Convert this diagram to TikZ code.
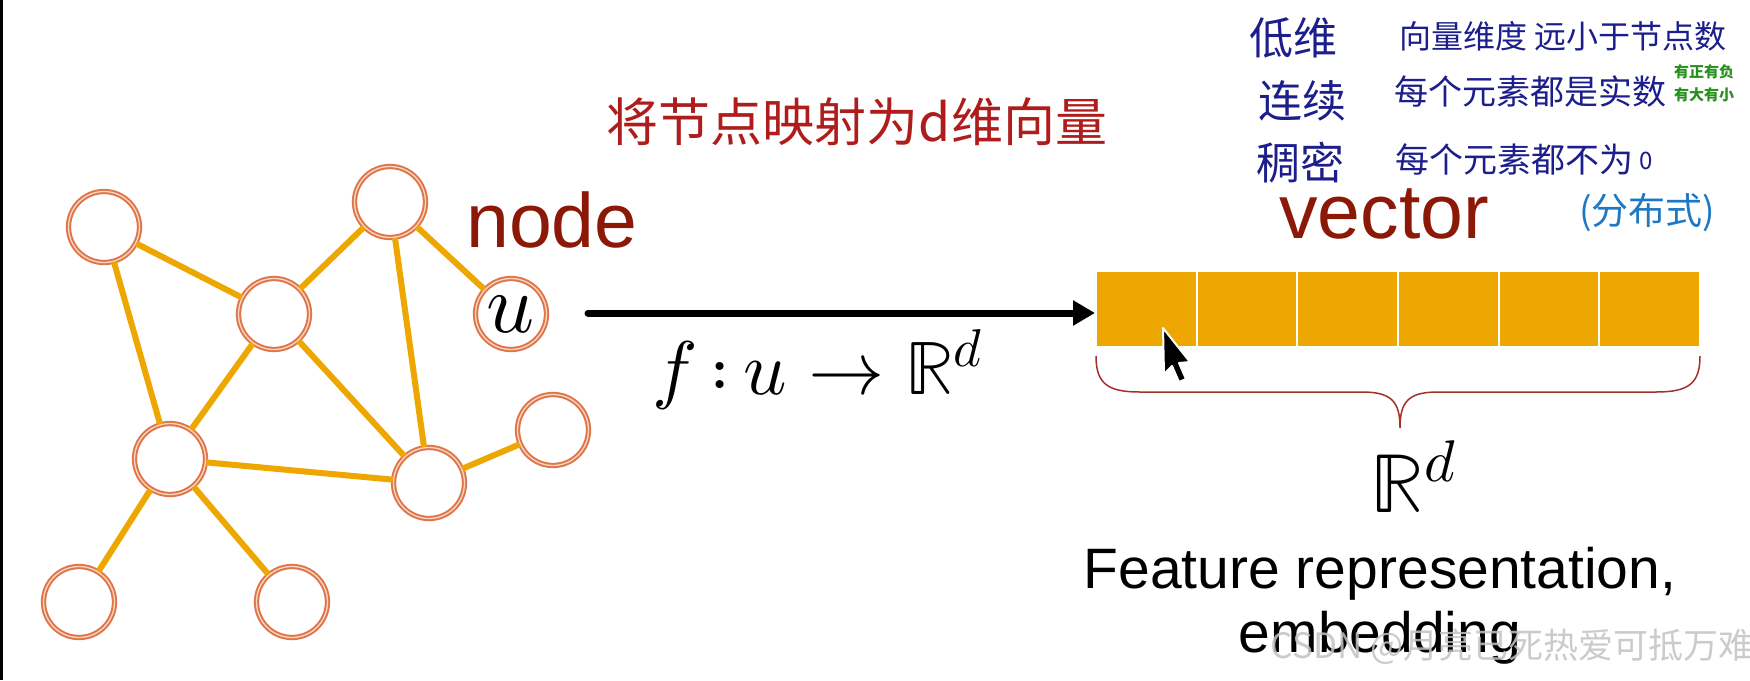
\documentclass[tikz,border=0pt]{standalone}
\usepackage{fontspec}
\usepackage{unicode-math}
\setmainfont{Liberation Sans}
\setmathfont{Latin Modern Math}
\newfontfamily\cjk{Noto Sans CJK SC}
\usetikzlibrary{arrows.meta,calc}
\definecolor{ringc}{RGB}{222,118,74}
\definecolor{ringlight}{RGB}{250,215,195}
\definecolor{edgec}{RGB}{238,166,0}
\definecolor{vecc}{RGB}{238,166,0}
\definecolor{nodered}{RGB}{140,24,8}
\definecolor{bracec}{RGB}{160,50,40}
\definecolor{handred}{RGB}{175,28,28}
\definecolor{navy}{RGB}{28,30,140}
\definecolor{hgreen}{RGB}{40,145,30}
\definecolor{lblue}{RGB}{30,120,195}
\definecolor{wmgray}{RGB}{195,195,195}
\begin{document}
\begin{tikzpicture}[x=1pt,y=-1pt,
  gnode/.style={circle, minimum size=71pt, inner sep=0pt, fill=white, draw=ringc,
    line width=2pt, double=ringlight, double distance=1.3pt},
  gedge/.style={draw=edgec, line width=6pt},
  cell/.style={rectangle, minimum width=100.67pt, minimum height=76pt, inner sep=0pt,
    fill=vecc, draw=white, line width=2pt},
  big/.style={font=\fontsize{77}{80}\selectfont, text=nodered, inner sep=0pt},
  hand/.style={inner sep=0pt, text=navy},
]
\useasboundingbox (0,0) rectangle (1750,680);
\fill[white] (0,0) rectangle (1750,680);
\fill[black] (0,0) rectangle (3,680);

% graph nodes
\node[gnode] (A) at (104,227) {};
\node[gnode] (B) at (390,202) {};
\node[gnode] (C) at (274,314) {};
\node[gnode] (U) at (511,314) {\fontsize{84}{84}\selectfont\raisebox{-10pt}{$u$}};
\node[gnode] (D) at (170,459) {};
\node[gnode] (E) at (429,483) {};
\node[gnode] (F) at (553,430) {};
\node[gnode] (G) at (79,602) {};
\node[gnode] (H) at (292,602) {};

% edges
\draw[gedge] (A) -- (C);
\draw[gedge] (A) -- (D);
\draw[gedge] (B) -- (C);
\draw[gedge] (B) -- (E);
\draw[gedge] (B) -- (U);
\draw[gedge] (C) -- (D);
\draw[gedge] (C) -- (E);
\draw[gedge] (D) -- (E);
\draw[gedge] (D) -- (G);
\draw[gedge] (D) -- (H);
\draw[gedge] (E) -- (F);

% labels
\node[big, anchor=base west] (lnode) at (466,247) {node};
\node[big, anchor=base west] (lvec) at (1279,238) {vector};
\node[inner sep=0pt, text=lblue, font=\cjk\fontsize{37}{40}\selectfont] (dist) at (1647,213) {(分布式)};

% vector cells
\foreach \i in {1,...,6}{
  \node[cell] (c\i) at ({1096+100.67*(\i-0.5)},309) {};
}

% arrow
\coordinate (arrS) at (588,313);
\draw[line width=7pt, line cap=round, -{Triangle[length=22pt,width=24pt]}] (arrS) -- (arrS -| c1.west);
\node[inner sep=0pt, anchor=base, font=\fontsize{76}{80}\selectfont] (fmap) at (818,394) {$f\,{:}\,u \rightarrow \mathbb{R}^{d}$};

% brace
\draw[bracec, line width=1.5pt]
  (1096,356) .. controls (1096,384) and (1108,392) .. (1140,392)
  -- (1362,392) .. controls (1392,392) and (1400,402) .. (1400,428)
  .. controls (1400,402) and (1408,392) .. (1438,392)
  -- (1656,392) .. controls (1688,392) and (1700,384) .. (1700,356);

\node[inner sep=0pt, anchor=base, font=\fontsize{84}{88}\selectfont] (Rd) at (1414,512) {$\mathbb{R}^{d}$};
\node[inner sep=0pt, anchor=base, font=\fontsize{57}{60}\selectfont] (feat1) at (1380,588) {Feature representation,};
\node[inner sep=0pt, anchor=base, font=\fontsize{57}{60}\selectfont] (feat2) at (1380,652) {embedding};

% handwritten notes
\node[inner sep=0pt, text=handred, font=\cjk\fontsize{52}{56}\selectfont] (map) at (857,122) {将节点映射为d维向量};
\node[hand, font=\cjk\fontsize{44}{48}\selectfont] (low) at (1293,38) {低维};
\node[hand, font=\cjk\fontsize{32}{36}\selectfont] (lowd) at (1563,36) {向量维度 远小于节点数};
\node[hand, font=\cjk\fontsize{44}{48}\selectfont] (cont) at (1302,101) {连续};
\node[hand, font=\cjk\fontsize{34}{38}\selectfont] (contd) at (1530,92) {每个元素都是实数};
\node[inner sep=0pt, text=hgreen, font=\cjk\bfseries\fontsize{15}{17}\selectfont] (g1) at (1704,72) {有正有负};
\node[inner sep=0pt, text=hgreen, font=\cjk\bfseries\fontsize{15}{17}\selectfont] (g2) at (1704,95) {有大有小};
\node[hand, font=\cjk\fontsize{44}{48}\selectfont] (dense) at (1300,163) {稠密};
\node[hand, font=\cjk\fontsize{34}{38}\selectfont] (densed) at (1524,159) {每个元素都不为\,{\fontsize{24}{24}\selectfont\raisebox{3pt}{0}}};

% cursor
\draw[white, line width=2pt, fill=black, line join=round]
  (1163,328) -- (1164,374) -- (1172,366) -- (1179,382) -- (1186,379) -- (1179,363) -- (1190,362) -- cycle;

% watermark
\node[inner sep=0pt, text=wmgray, opacity=0.85, font=\cjk\fontsize{35}{38}\selectfont] (wm) at (1512,647) {CSDN @月亮已死热爱可抵万难};
\end{tikzpicture}
\end{document}
